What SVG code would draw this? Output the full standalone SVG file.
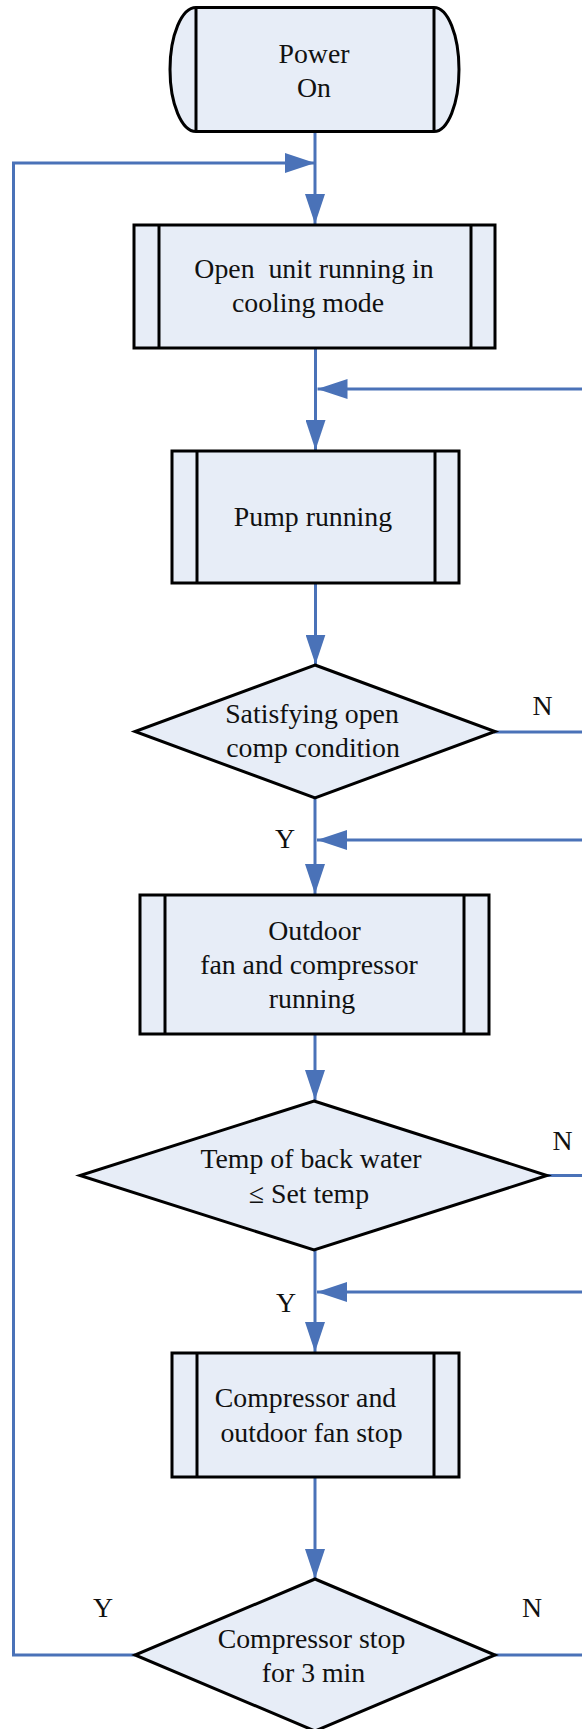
<svg xmlns="http://www.w3.org/2000/svg" width="582" height="1729" viewBox="0 0 582 1729">
<style>
.shape{fill:#E7EDF7;stroke:#000;stroke-width:3;stroke-linejoin:miter}
.bar{stroke:#000;stroke-width:3}
.t{font-family:"Liberation Serif","Times New Roman",serif;font-size:27.8px;fill:#111;text-anchor:middle;white-space:pre}
.c{fill:none;stroke:#4A72B8;stroke-width:3}
.ah{fill:#4A72B8}
</style>
<defs>
<marker id="arr" markerUnits="userSpaceOnUse" markerWidth="30" markerHeight="20" refX="30" refY="10" orient="auto" viewBox="0 0 30 20">
<path d="M0,0 L30,10 L0,20 Z" class="ah"/>
</marker>
</defs>
<rect width="582" height="1729" fill="#fff"/>
<g id="connectors">
<line class="c" x1="315" y1="131" x2="315" y2="224" marker-end="url(#arr)"/>
<polyline class="c" points="135,1655 13.5,1655 13.5,163 315,163" marker-end="url(#arr)"/>
<line class="c" x1="315.5" y1="348" x2="315.5" y2="450" marker-end="url(#arr)"/>
<line class="c" x1="582" y1="389" x2="317.5" y2="389" marker-end="url(#arr)"/>
<line class="c" x1="315.5" y1="584" x2="315.5" y2="664.5" marker-end="url(#arr)"/>
<line class="c" x1="494" y1="732" x2="582" y2="732"/>
<line class="c" x1="315" y1="798" x2="315" y2="894" marker-end="url(#arr)"/>
<line class="c" x1="582" y1="840" x2="317" y2="840" marker-end="url(#arr)"/>
<line class="c" x1="315" y1="1034" x2="315" y2="1100" marker-end="url(#arr)"/>
<line class="c" x1="547" y1="1175.5" x2="582" y2="1175.5"/>
<line class="c" x1="315" y1="1250" x2="315" y2="1352" marker-end="url(#arr)"/>
<line class="c" x1="582" y1="1292" x2="317" y2="1292" marker-end="url(#arr)"/>
<line class="c" x1="315" y1="1477" x2="315" y2="1579" marker-end="url(#arr)"/>
<line class="c" x1="495" y1="1655" x2="582" y2="1655"/>
<text class="t" x="542.5" y="715">N</text>
<text class="t" x="285" y="848">Y</text>
<text class="t" x="562.5" y="1150">N</text>
<text class="t" x="286" y="1312">Y</text>
<text class="t" x="103" y="1617">Y</text>
<text class="t" x="532" y="1617">N</text>
</g>
<g id="power-on">
<path class="shape" d="M196,7.5 L434,7.5 A25,62 0 0 1 434,131.5 L196,131.5 A26,62 0 0 1 196,7.5 Z"/>
<line class="bar" x1="196" y1="7.5" x2="196" y2="131.5"/>
<line class="bar" x1="434" y1="7.5" x2="434" y2="131.5"/>
<text class="t" x="314" y="63">Power</text>
<text class="t" x="314" y="97">On</text>
</g>
<g id="open-unit">
<rect class="shape" x="134" y="225" width="361" height="123"/>
<line class="bar" x1="159" y1="225" x2="159" y2="348"/>
<line class="bar" x1="471" y1="225" x2="471" y2="348"/>
<text class="t" x="314" y="278">Open  unit running in</text>
<text class="t" x="308" y="312">cooling mode</text>
</g>
<g id="pump-running">
<rect class="shape" x="172" y="451" width="287" height="132"/>
<line class="bar" x1="197" y1="451" x2="197" y2="583"/>
<line class="bar" x1="435" y1="451" x2="435" y2="583"/>
<text class="t" x="313" y="526">Pump running</text>
</g>
<g id="satisfying">
<polygon class="shape" points="315,665 495,731.5 315,798 135,731.5"/>
<text class="t" x="312" y="722.5">Satisfying open</text>
<text class="t" x="313" y="757">comp condition</text>
</g>
<g id="outdoor-running">
<rect class="shape" x="140" y="895" width="349" height="139"/>
<line class="bar" x1="165" y1="895" x2="165" y2="1034"/>
<line class="bar" x1="464" y1="895" x2="464" y2="1034"/>
<text class="t" x="314.5" y="940">Outdoor</text>
<text class="t" x="309" y="974">fan and compressor</text>
<text class="t" x="312" y="1007.5">running</text>
</g>
<g id="temp-check">
<polygon class="shape" points="314,1101 547,1175.5 314,1250 80,1175.5"/>
<text class="t" x="311" y="1168">Temp of back water</text>
<text class="t" x="309" y="1202.5">≤ Set temp</text>
</g>
<g id="compressor-stop">
<rect class="shape" x="172" y="1353" width="287" height="124"/>
<line class="bar" x1="197" y1="1353" x2="197" y2="1477"/>
<line class="bar" x1="434" y1="1353" x2="434" y2="1477"/>
<text class="t" x="305.5" y="1406.5">Compressor and</text>
<text class="t" x="311.5" y="1441.5">outdoor fan stop</text>
</g>
<g id="stop-3min">
<polygon class="shape" points="315,1579 495,1655 315,1731 135,1655"/>
<text class="t" x="311.5" y="1647.5">Compressor stop</text>
<text class="t" x="313.5" y="1681.5">for 3 min</text>
</g>
</svg>
